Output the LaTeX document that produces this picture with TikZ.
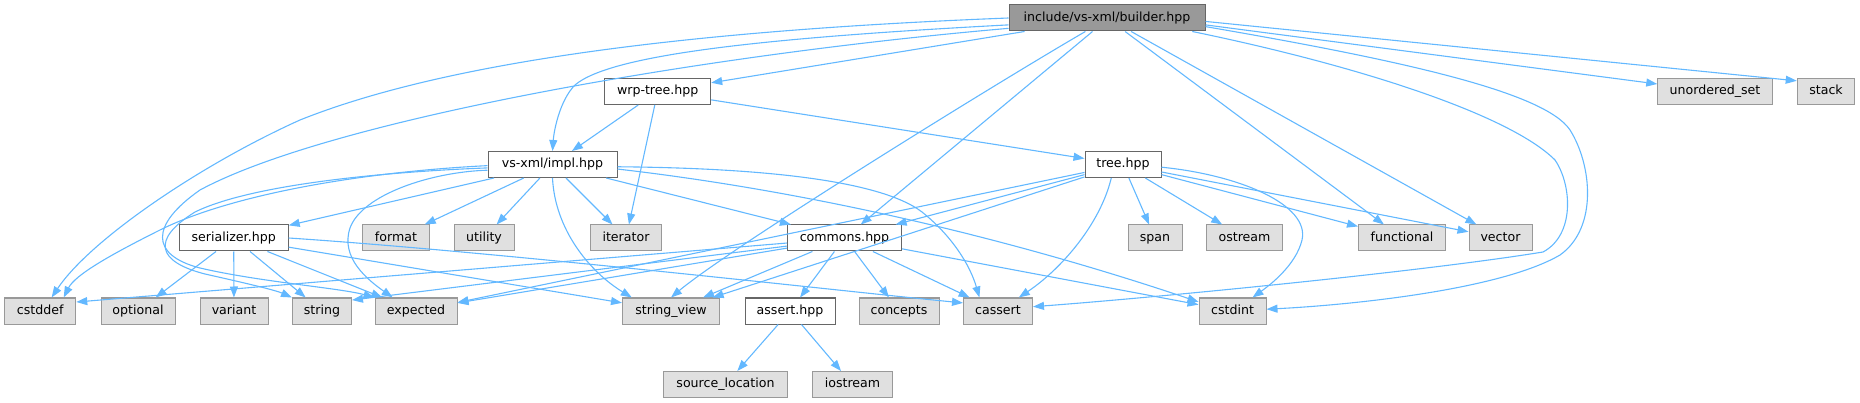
\documentclass[tikz,border=0pt]{standalone}
\usepackage{fontspec}
\setmainfont{DejaVu Sans}
\usetikzlibrary{arrows.meta}
\definecolor{edgeblue}{HTML}{63B8FF}
\definecolor{mainfill}{HTML}{999999}
\definecolor{darkborder}{HTML}{666666}
\definecolor{extfill}{HTML}{E0E0E0}
\definecolor{extborder}{HTML}{999999}
\begin{document}
\begin{tikzpicture}[x=1pt,y=-1pt,
  box/.style={rectangle, minimum height=26pt, inner sep=0pt, line width=1pt,
    font=\fontsize{12.6}{14}\selectfont, text=black, text height=9.4pt, text depth=2.6pt},
  mainbox/.style={box, fill=mainfill, draw=darkborder},
  filebox/.style={box, fill=white, draw=darkborder},
  extbox/.style={box, fill=extfill, draw=extborder},
  dep/.style={draw=edgeblue, line width=1.1pt, -{Triangle[length=11pt,width=8pt]}}]
\useasboundingbox (0,0) rectangle (1860,403);
% rank 0
\node[mainbox, minimum width=196pt] (builder) at (1107,18) {include/vs-xml/builder.hpp};
% rank 1
\node[filebox, minimum width=106pt] (wrp) at (657.7,91.5) {wrp-tree.hpp};
\node[extbox, minimum width=114.5pt] (uset) at (1715,91.5) {unordered\_set};
\node[extbox, minimum width=57.6pt] (stack) at (1826,91.5) {stack};
% rank 2
\node[filebox, minimum width=129pt] (impl) at (552.5,164.5) {vs-xml/impl.hpp};
\node[filebox, minimum width=76pt] (tree) at (1123,164.5) {tree.hpp};
% rank 3
\node[filebox, minimum width=109pt] (serializer) at (233.7,238) {serializer.hpp};
\node[extbox, minimum width=67pt] (format) at (396,238) {format};
\node[extbox, minimum width=60pt] (utility) at (484,238) {utility};
\node[extbox, minimum width=71pt] (iterator) at (626,238) {iterator};
\node[filebox, minimum width=114pt] (commons) at (844.5,238) {commons.hpp};
\node[extbox, minimum width=54pt] (span) at (1155,238) {span};
\node[extbox, minimum width=76pt] (ostream) at (1244.5,238) {ostream};
\node[extbox, minimum width=87pt] (functional) at (1402,238) {functional};
\node[extbox, minimum width=63pt] (vector) at (1500.5,238) {vector};
% rank 4
\node[extbox, minimum width=71pt] (cstddef) at (40.3,311) {cstddef};
\node[extbox, minimum width=74pt] (optional) at (138,311) {optional};
\node[extbox, minimum width=68pt] (variant) at (234,311) {variant};
\node[extbox, minimum width=59pt] (string) at (322,311) {string};
\node[extbox, minimum width=82pt] (expected) at (416,311) {expected};
\node[extbox, minimum width=97pt] (strview) at (671,311) {string\_view};
\node[filebox, minimum width=90pt] (assert) at (790,311) {assert.hpp};
\node[extbox, minimum width=80pt] (concepts) at (899,311) {concepts};
\node[extbox, minimum width=69pt] (cassert) at (998,311) {cassert};
\node[extbox, minimum width=67pt] (cstdint) at (1232.5,311) {cstdint};
% rank 5
\node[extbox, minimum width=124.5pt] (srcloc) at (725.5,384.5) {source\_location};
\node[extbox, minimum width=80pt] (iostream) at (852.5,384.5) {iostream};

% builder.hpp
\draw[dep] (builder) -- (wrp);
\draw[dep] (builder.184) .. controls (760,38) and (610,55) .. (575,85) .. controls (560,100) and (554,130) .. (impl.north);
\draw[dep] (builder.west) .. controls (700,30) and (450,60) .. (300,120) .. controls (200,165) and (90,240) .. (cstddef.50);
\draw[dep] (builder.186) .. controls (700,55) and (330,120) .. (200,190) .. controls (150,225) and (150,255) .. (200,268) .. controls (260,282) and (340,288) .. (expected.north west);
\draw[dep] (builder.212) .. controls (995,84) and (730,248) .. (strview.north);
\draw[dep] (builder.223) -- (commons);
\draw[dep] (builder) -- (functional);
\draw[dep] (builder) -- (vector);
\draw[dep] (builder.-9) .. controls (1360,66) and (1510,115) .. (1555,160) .. controls (1572,185) and (1575,235) .. (1543,252) .. controls (1420,272) and (1150,298) .. (cassert.7);
\draw[dep] (builder.-5) .. controls (1400,60) and (1545,92) .. (1570,130) .. controls (1592,165) and (1598,228) .. (1560,255) .. controls (1500,290) and (1350,305) .. (cstdint.3);
\draw[dep] (builder.-4) -- (uset);
\draw[dep] (builder.-2) -- (stack.160);

% wrp-tree.hpp
\draw[dep] (wrp) -- (impl);
\draw[dep] (wrp) -- (iterator);
\draw[dep] (wrp) -- (tree);

% vs-xml/impl.hpp
\draw[dep] (impl) -- (serializer);
\draw[dep] (impl) -- (format);
\draw[dep] (impl) -- (utility);
\draw[dep] (impl) -- (iterator);
\draw[dep] (impl) -- (commons);
\draw[dep] (impl.-4) .. controls (800,190) and (1000,235) .. (cstdint.165);
\draw[dep] (impl.south) .. controls (555,230) and (590,272) .. (strview.161);
\draw[dep] (impl.181) .. controls (360,172) and (230,195) .. (160,230) .. controls (110,255) and (75,275) .. (cstddef.30);
\draw[dep] (impl.183) .. controls (380,172) and (250,185) .. (195,212) .. controls (150,240) and (158,262) .. (205,274) .. controls (245,283) and (275,290) .. (string.north west);
\draw[dep] (impl.185) .. controls (430,172) and (362,195) .. (350,228) .. controls (340,258) and (368,280) .. (expected.150);
\draw[dep] (impl.-2) .. controls (760,168) and (880,180) .. (922,212) .. controls (952,236) and (970,265) .. (cassert.144);

% tree.hpp
\draw[dep] (tree) -- (commons);
\draw[dep] (tree) -- (expected);
\draw[dep] (tree) -- (strview);
\draw[dep] (tree) -- (span);
\draw[dep] (tree) -- (ostream);
\draw[dep] (tree) -- (functional);
\draw[dep] (tree) -- (vector);
\draw[dep] (tree.229) .. controls (1100,225) and (1060,270) .. (cassert.33);
\draw[dep] (tree.-4) .. controls (1240,175) and (1310,205) .. (1302,240) .. controls (1296,265) and (1270,285) .. (cstdint.34);

% commons.hpp
\draw[dep] (commons.185) -- (cstddef.14);
\draw[dep] (commons.188) -- (string.20);
\draw[dep] (commons.190) -- (expected.11);
\draw[dep] (commons) -- (strview);
\draw[dep] (commons) -- (assert);
\draw[dep] (commons) -- (concepts);
\draw[dep] (commons) -- (cassert);
\draw[dep] (commons) -- (cstdint);

% serializer.hpp
\draw[dep] (serializer) -- (optional);
\draw[dep] (serializer) -- (variant);
\draw[dep] (serializer) -- (string);
\draw[dep] (serializer) -- (expected);
\draw[dep] (serializer) -- (strview);
\draw[dep] (serializer.east) .. controls (500,252) and (850,292) .. (cassert.167);

% assert.hpp
\draw[dep] (assert) -- (srcloc);
\draw[dep] (assert) -- (iostream);
\end{tikzpicture}
\end{document}
